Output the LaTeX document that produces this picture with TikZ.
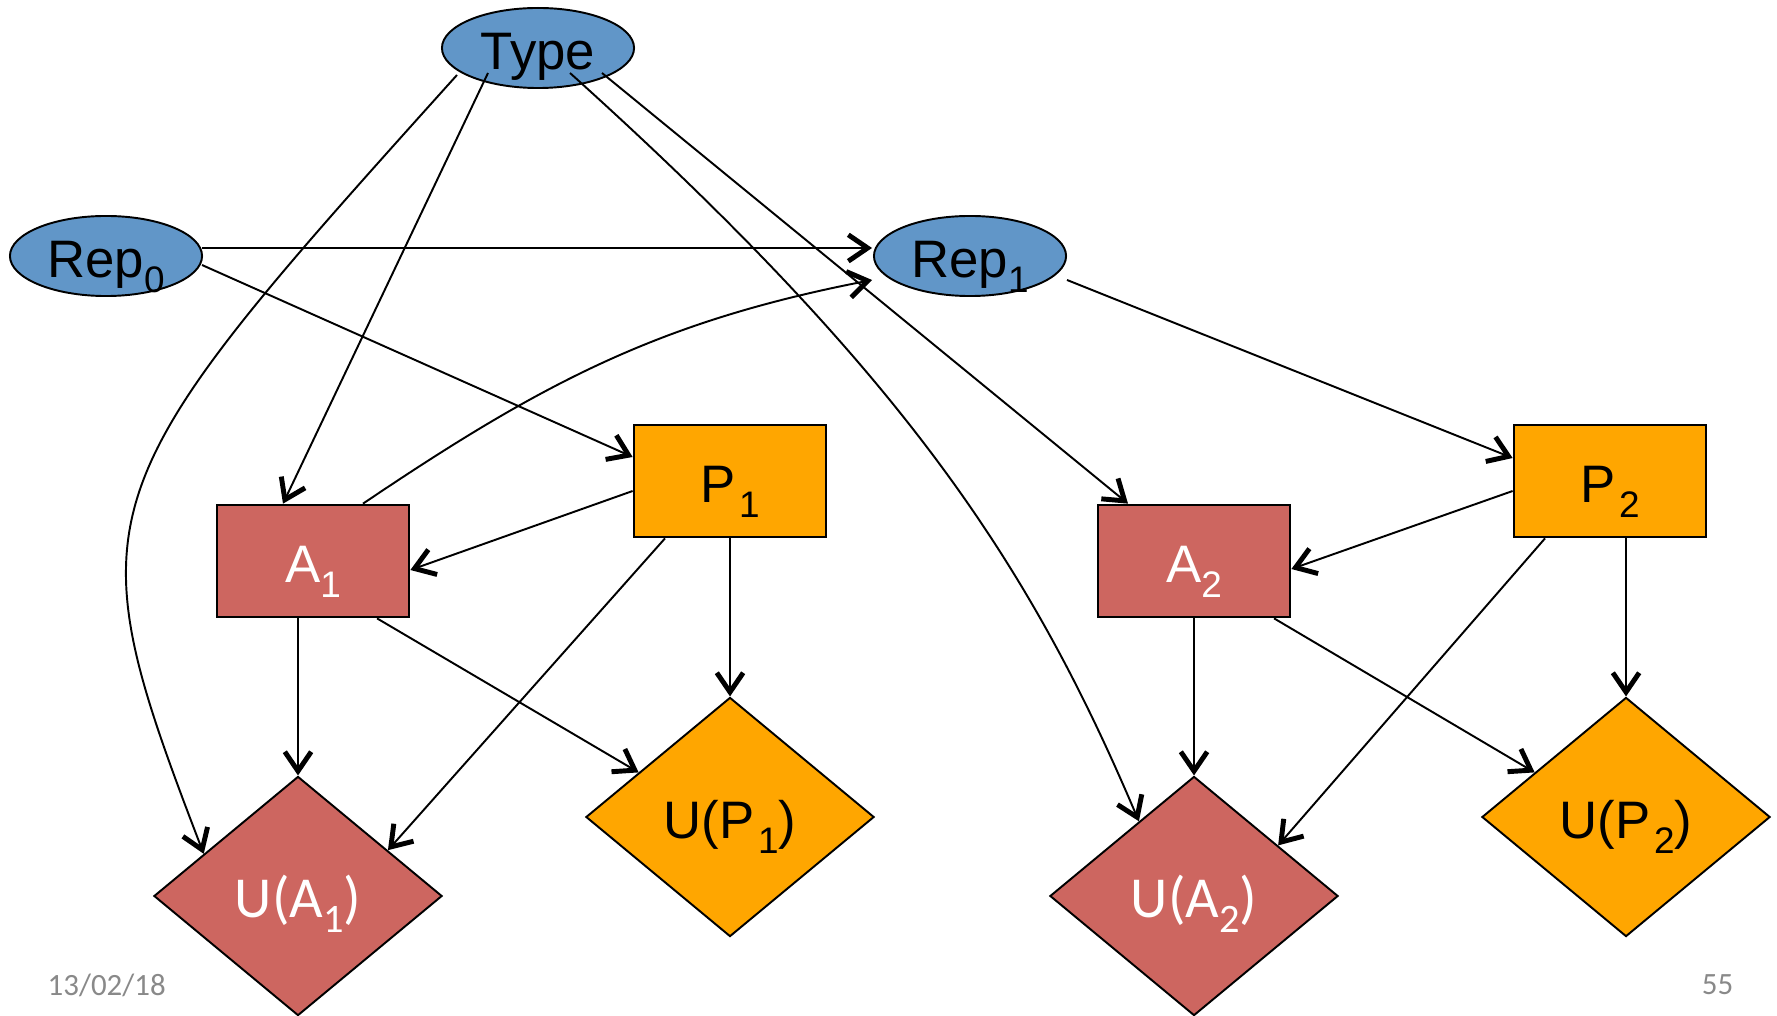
\documentclass[tikz,border=0pt]{standalone}
\usepackage{fontspec}
\setmainfont{Liberation Sans}
\newfontfamily\carlitofont{Carlito}
\usetikzlibrary{shapes.geometric,arrows.meta,calc}
\definecolor{blueC}{RGB}{97,150,200}
\definecolor{redC}{RGB}{205,102,96}
\definecolor{orangeC}{RGB}{255,166,0}
\definecolor{footC}{RGB}{137,137,137}
\newcommand{\sbx}[1]{\raisebox{-4.5pt}{\fontsize{10.5pt}{12pt}\selectfont #1}}
\newcommand{\sbc}[1]{\raisebox{-4.5pt}{\fontsize{11.5pt}{12pt}\selectfont #1}}
\tikzset{
  lbl/.style={font=\fontsize{15pt}{18pt}\selectfont, text height=12pt, text depth=0pt, inner sep=0pt},
  ell/.style={lbl, ellipse, draw=black, line width=0.55pt, fill=blueC, minimum width=1.92cm, minimum height=0.8cm},
  abox/.style={lbl, rectangle, draw=black, line width=0.75pt, fill=redC, text=white, minimum width=1.92cm, minimum height=1.12cm},
  pbox/.style={lbl, rectangle, draw=black, line width=0.75pt, fill=orangeC, minimum width=1.92cm, minimum height=1.12cm},
  adia/.style={lbl, diamond, draw=black, line width=0.55pt, fill=redC, text=white, minimum width=2.88cm, minimum height=2.39cm, font=\carlitofont\fontsize{16.5pt}{18pt}\selectfont},
  pdia/.style={lbl, diamond, draw=black, line width=0.55pt, fill=orangeC, minimum width=2.88cm, minimum height=2.39cm},
  conn/.style={line width=0.55pt, -{Straight Barb[length=5.5pt,width=7.5pt,line width=1.4pt]}},
  foot/.style={inner sep=0pt, text=footC, font=\carlitofont\fontsize{8.8pt}{10pt}\selectfont}
}
\begin{document}
\begin{tikzpicture}[x=0.01cm, y=-0.01cm]
\useasboundingbox (0,0) rectangle (1777,1016);
% nodes
\node[ell] (Type) at (538,48) {Type};
\node[ell] (Rep0) at (106,256) {Rep\sbx{0}};
\node[ell] (Rep1) at (970,256) {Rep\sbx{1}};
\node[abox] (A1) at (313,561) {A\sbx{1}};
\node[pbox] (P1) at (730,481) {P\kern1pt\sbx{1}};
\node[abox] (A2) at (1194,561) {A\sbx{2}};
\node[pbox] (P2) at (1610,481) {P\kern1pt\sbx{2}};
\node[adia] (UA1) at (298,896) {U(A\sbc{1})};
\node[pdia] (UP1) at (730,817) {U(P\kern1pt\sbx{1})};
\node[adia] (UA2) at (1194,896) {U(A\sbc{2})};
\node[pdia] (UP2) at (1626,817) {U(P\kern1pt\sbx{2})};
\node[foot, anchor=base west] (date) at (47,995) {13/02/18};
\node[foot, anchor=base east] (pnum) at (1734,994) {55};
% connectors
\draw[conn] ($(Type.center)+(-81,27)$) to[out=228, in=111, out distance=5.6cm, in distance=3.7cm] ($(UA1.north)!0.65!(UA1.west)$);
\draw[conn] ($(Type.center)+(-50,25)$) -- ($(A1.north)+(-30,0)$);
\draw[conn] ($(Type.center)+(32,25)$) to[out=-42, in=113, out distance=4.5cm, in distance=2.8cm] ($(UA2.north)!0.38!(UA2.west)$);
\draw[conn] ($(Type.center)+(64,25)$) -- ($(A2.north)+(-66,0)$);
\draw[conn] ($(Rep0.center)+(96,-8)$) -- ($(Rep1.center)+(-98,-8)$);
\draw[conn] ($(Rep0.center)+(96,9)$) -- ($(P1.west)+(0,-24)$);
\draw[conn] ($(A1.north)+(50,0)$) to[out=34, in=191] ($(Rep1.center)+(-98,24)$);
\draw[conn] ($(Rep1.center)+(97,24)$) -- ($(P2.west)+(0,-23)$);
\draw[conn] ($(P1.west)+(0,10)$) -- ($(A1.east)+(0,9)$);
\draw[conn] ($(P1.south)+(-65,0)$) -- ($(UA1.north)!0.62!(UA1.east)$);
\draw[conn] (P1.south) -- (UP1.north);
\draw[conn] ($(A1.south)+(-15,0)$) -- (UA1.north);
\draw[conn] ($(A1.south)+(64,0)$) -- ($(UP1.north)!0.63!(UP1.west)$);
\draw[conn] ($(P2.west)+(0,10)$) -- ($(A2.east)+(0,8)$);
\draw[conn] ($(P2.south)+(-65,0)$) -- ($(UA2.north)!0.58!(UA2.east)$);
\draw[conn] ($(P2.south)+(16,0)$) -- (UP2.north);
\draw[conn] (A2.south) -- (UA2.north);
\draw[conn] ($(A2.south)+(80,0)$) -- ($(UP2.north)!0.63!(UP2.west)$);
\end{tikzpicture}
\end{document}
